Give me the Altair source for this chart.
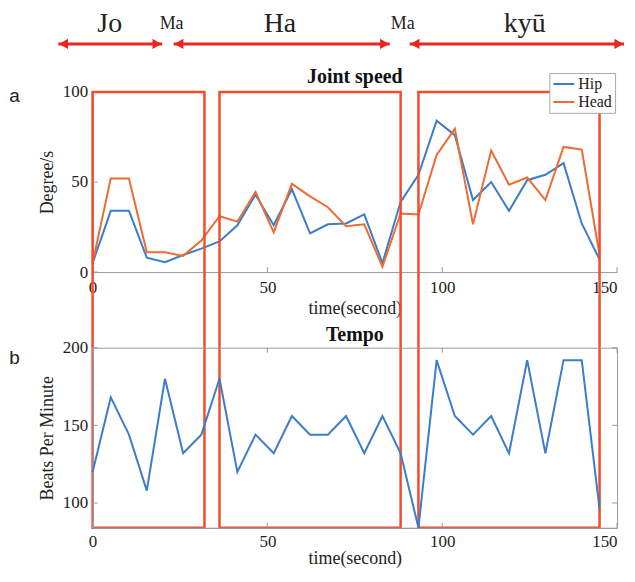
import altair as alt
import pandas as pd

# ---------------- data ----------------
time_s = [0, 5.2, 10.4, 15.5, 20.7, 25.9, 31.1, 36.3, 41.4, 46.6, 51.8, 57.0, 62.2, 67.3,
          72.5, 77.7, 82.9, 88.1, 93.2, 98.4, 103.6, 108.8, 114.0, 119.1, 124.3, 129.5,
          134.7, 139.9, 145.0]
hip = [5, 34, 34, 8, 5.5, 9.5, 13, 17, 26, 43, 26, 46, 21.5, 26.5, 27, 32, 5, 39, 54,
       84, 76, 40, 50, 34, 51, 54, 60.5, 27, 7]
head = [5, 52, 52, 11, 11, 9, 17.5, 31, 28, 44.5, 22, 49, 42, 36, 25.5, 26.5, 3, 32.5,
        32, 65, 79.5, 26.5, 67.5, 48.5, 52.5, 40, 69.5, 68, 9.5]
tempo = [120, 168, 144, 108, 180, 132, 144, 180, 120, 144, 132, 156, 144, 144, 156, 132,
         156, 132, 84, 192, 156, 144, 156, 132, 192, 132, 192, 192, 96]

series_names = ["Hip", "Head"]
box_start = [0, 36.3, 93.2]
box_end = [32.0, 88.1, 145.0]
arrow_start = [-9.8, 23.2, 90.7]
arrow_end = [19.9, 85.0, 152.0]
phase_labels = ["Jo", "Ma", "Ha", "Ma", "kyū"]
phase_x = [4.9, 22.6, 53.6, 88.7, 123.6]
phase_major = [True, False, True, False, True]
x_ticks = [0, 50, 100, 150]
speed_ticks = [0, 50, 100]
tempo_ticks = [100, 150, 200]
panel_titles = ["Joint speed", "Tempo"]
panel_letters = ["a", "b"]

# ---------------- style ----------------
W, H1, H2, GAP = 527, 181, 181, 76
LEFT = 83.7
SERIF = "Liberation Serif"
SANS = "Liberation Sans"
BLUE = "#3b7dc8"
ORANGE = "#ee6b34"
RED_BOX = "#f24b2d"
RED_ARROW = "#e8261f"
GRAY = "#999999"
TXT = "#222222"
XT = "time(second)"

n = len(time_s)
speed_df = pd.DataFrame({
    "time": time_s * 2,
    "speed": hip + head,
    "joint": [series_names[0]] * n + [series_names[1]] * n,
})
tempo_df = pd.DataFrame({"time": time_s, "bpm": tempo})
box_df = pd.DataFrame({"start": box_start, "end": box_end})
arrow_df = pd.DataFrame({"start": arrow_start, "end": arrow_end})
phase_df = pd.DataFrame({"label": phase_labels, "x": phase_x, "major": phase_major})
xt_df = pd.DataFrame({"t": x_ticks})
st_df = pd.DataFrame({"v": speed_ticks})
tt_df = pd.DataFrame({"v": tempo_ticks})

x_scale = alt.Scale(domain=[0, 150], nice=False, zero=False)
speed_scale = alt.Scale(domain=[0, 100], nice=False)
tempo_scale = alt.Scale(domain=[84, 200], nice=False, zero=False)

axis_style = dict(labelFont=SERIF, titleFont=SERIF, labelFontSize=17, titleFontSize=18,
                  titleFontWeight="normal", labelColor=TXT, titleColor=TXT,
                  domainColor=GRAY, ticks=False, grid=False)
last_right = {"condition": {"test": "datum.value >= 150", "value": "right"}, "value": "center"}


def x_axis(label_pad, title_pad):
    return alt.Axis(values=x_ticks, title=XT, labelPadding=label_pad, titlePadding=title_pad,
                    labelFlush=False, labelAlign=last_right, **axis_style)


def y_axis(vals, title):
    return alt.Axis(values=vals, title=title, labelPadding=5, titlePadding=6, **axis_style)


# ---------------- top panel ----------------
lines = alt.Chart(speed_df).mark_line(strokeWidth=2).encode(
    x=alt.X("time:Q", scale=x_scale, axis=x_axis(8, 4)),
    y=alt.Y("speed:Q", scale=speed_scale, axis=y_axis(speed_ticks, "Degree/s")),
    color=alt.Color("joint:N", scale=alt.Scale(domain=series_names, range=[BLUE, ORANGE]),
                    legend=alt.Legend(title=None, orient="none", legendX=459, legendY=-19,
                                      fillColor="white", strokeColor="#aaaaaa", padding=3,
                                      symbolType="stroke", symbolStrokeWidth=2, symbolSize=441,
                                      clipHeight=16, labelFont=SERIF, labelFontSize=16,
                                      labelColor=TXT, rowPadding=2, labelOffset=3)),
)

top_xticks = alt.Chart(xt_df).mark_rule(color=GRAY).encode(
    x=alt.X("t:Q", scale=x_scale, title=XT), y=alt.value(H1), y2=alt.value(H1 - 5))
top_yticks = alt.Chart(st_df).mark_rule(color=GRAY).encode(
    y=alt.Y("v:Q", scale=speed_scale, title="Degree/s"), x=alt.value(0), x2=alt.value(5))

boxes = alt.Chart(box_df).mark_rect(fillOpacity=0, stroke=RED_BOX, strokeWidth=2.5).encode(
    x=alt.X("start:Q", scale=x_scale, title=XT), x2="end:Q",
    y=alt.datum(100), y2=alt.value(H1 + GAP + H2))

arrows = alt.Chart(arrow_df).mark_rule(color=RED_ARROW, strokeWidth=3).encode(
    x=alt.X("start:Q", scale=x_scale, title=XT), x2="end:Q", y=alt.value(-48.3))
heads_l = alt.Chart(arrow_df).mark_point(shape="triangle-left", filled=True, color=RED_ARROW,
                                          size=110, opacity=1, xOffset=5.2).encode(
    x=alt.X("start:Q", scale=x_scale, title=XT), y=alt.value(-48.3))
heads_r = alt.Chart(arrow_df).mark_point(shape="triangle-right", filled=True, color=RED_ARROW,
                                          size=110, opacity=1, xOffset=-5.2).encode(
    x=alt.X("end:Q", scale=x_scale, title=XT), y=alt.value(-48.3))

big_labels = alt.Chart(phase_df).transform_filter("datum.major").mark_text(
    font=SERIF, fontSize=28, align="center", baseline="alphabetic", color=TXT).encode(
    x=alt.X("x:Q", scale=x_scale, title=XT), y=alt.value(-60.5), text="label:N")
small_labels = alt.Chart(phase_df).transform_filter("!datum.major").mark_text(
    font=SERIF, fontSize=18, align="center", baseline="alphabetic", color=TXT).encode(
    x=alt.X("x:Q", scale=x_scale, title=XT), y=alt.value(-63.6), text="label:N")

title_top = alt.Chart(pd.DataFrame({"t": [panel_titles[0]]})).mark_text(
    font=SERIF, fontSize=20, fontWeight="bold", align="center", baseline="alphabetic",
    color="#111").encode(x=alt.value(W / 2), y=alt.value(-8.6), text="t:N")
letter_a = alt.Chart(pd.DataFrame({"t": [panel_letters[0]]})).mark_text(
    font=SANS, fontSize=19, align="left", baseline="middle", color=TXT).encode(
    x=alt.value(-LEFT), y=alt.value(4.4), text="t:N")

top = alt.layer(lines, top_xticks, top_yticks, boxes, arrows, heads_l, heads_r,
                big_labels, small_labels, title_top, letter_a).properties(width=W, height=H1)

# ---------------- bottom panel ----------------
tempo_line = alt.Chart(tempo_df).mark_line(strokeWidth=2, color=BLUE).encode(
    x=alt.X("time:Q", scale=x_scale, axis=x_axis(6, 0)),
    y=alt.Y("bpm:Q", scale=tempo_scale, axis=y_axis(tempo_ticks, "Beats Per Minute")),
)
bt_xticks = alt.Chart(xt_df).mark_rule(color=GRAY).encode(
    x=alt.X("t:Q", scale=x_scale, title=XT), y=alt.value(H2), y2=alt.value(H2 - 5))
tp_xticks = alt.Chart(xt_df).mark_rule(color=GRAY).encode(
    x=alt.X("t:Q", scale=x_scale, title=XT), y=alt.value(0), y2=alt.value(5))
bl_yticks = alt.Chart(tt_df).mark_rule(color=GRAY).encode(
    y=alt.Y("v:Q", scale=tempo_scale, title="Beats Per Minute"), x=alt.value(0), x2=alt.value(5))
br_yticks = alt.Chart(tt_df).mark_rule(color=GRAY).encode(
    y=alt.Y("v:Q", scale=tempo_scale, title="Beats Per Minute"), x=alt.value(W),
    x2=alt.value(W - 5))
title_bot = alt.Chart(pd.DataFrame({"t": [panel_titles[1]]})).mark_text(
    font=SERIF, fontSize=20, fontWeight="bold", align="center", baseline="alphabetic",
    color="#111").encode(x=alt.value(W / 2), y=alt.value(-7), text="t:N")
letter_b = alt.Chart(pd.DataFrame({"t": [panel_letters[1]]})).mark_text(
    font=SANS, fontSize=19, align="left", baseline="middle", color=TXT).encode(
    x=alt.value(-LEFT), y=alt.value(10), text="t:N")

bottom = alt.layer(tempo_line, bt_xticks, tp_xticks, bl_yticks, br_yticks,
                   title_bot, letter_b).properties(
    width=W, height=H2, view=alt.ViewBackground(stroke=GRAY, strokeWidth=1))

chart = alt.vconcat(top, bottom, spacing=GAP, bounds="flush").properties(
    padding={"left": 0, "top": 0, "right": 0, "bottom": 0},
).configure_view(stroke="transparent")

chart.save("out.html", embed_options={"renderer": "svg", "actions": False})
